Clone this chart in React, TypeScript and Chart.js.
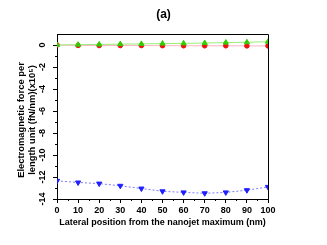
import React, { useEffect, useRef } from "react";
import { Chart, registerables } from "chart.js";

Chart.register(...registerables);

const POSITIONS = [0, 10, 20, 30, 40, 50, 60, 70, 80, 90, 100];
const GREEN_VALUES = [0, 0.03, 0.05, 0.08, 0.1, 0.13, 0.15, 0.18, 0.22, 0.25, 0.3];
const RED_VALUES = [0, -0.04, -0.05, -0.05, -0.05, -0.06, -0.07, -0.07, -0.07, -0.08, -0.08];
const BLACK_VALUES = [0, -0.08, -0.09, -0.1, -0.1, -0.1, -0.1, -0.1, -0.1, -0.1, -0.1];
const BLUE_VALUES = [-12.35, -12.5, -12.6, -12.8, -13.05, -13.3, -13.4, -13.48, -13.4, -13.2, -12.9];
const Y_MINOR = [-13, -11, -9, -7, -5, -3, -1];
const X_MINOR = [5, 15, 25, 35, 45, 55, 65, 75, 85, 95];

const TITLE = "(a)";
const X_TITLE = "Lateral position from the nanojet maximum (nm)";
const Y_TITLE_1 = "Electromagnetic force per";
const Y_TITLE_2 = "length unit (fN/nm)(x10\u2075)";

const FONT_FAMILY = '"Liberation Sans", Arial, sans-serif';

const toPoints = (vals: number[]) => POSITIONS.map((x, i) => ({ x, y: vals[i] }));

const customPlugin = {
  id: "customAxes",
  afterDraw(chart: any) {
    const { ctx, chartArea: a, scales } = chart;
    const xs = scales.x;
    const ys = scales.y;
    ctx.save();
    ctx.strokeStyle = "#000";
    ctx.lineWidth = 1;
    // frame top and right
    ctx.beginPath();
    ctx.moveTo(Math.round(a.left), Math.round(a.top) + 0.5);
    ctx.lineTo(Math.round(a.right) + 0.5, Math.round(a.top) + 0.5);
    ctx.lineTo(Math.round(a.right) + 0.5, Math.round(a.bottom));
    ctx.stroke();
    // minor ticks
    ctx.beginPath();
    for (const v of Y_MINOR) {
      const py = Math.round(ys.getPixelForValue(v)) + 0.5;
      ctx.moveTo(a.left - 2, py);
      ctx.lineTo(a.left, py);
    }
    for (const v of X_MINOR) {
      const px = Math.round(xs.getPixelForValue(v)) + 0.5;
      ctx.moveTo(px, a.bottom);
      ctx.lineTo(px, a.bottom + 2);
    }
    ctx.stroke();
    // rotated y tick labels
    ctx.fillStyle = "#000";
    ctx.font = "bold 9px " + FONT_FAMILY;
    ctx.textAlign = "center";
    ctx.textBaseline = "middle";
    for (const t of ys.ticks) {
      const py = ys.getPixelForValue(t.value);
      ctx.save();
      ctx.translate(43, py);
      ctx.rotate(-Math.PI / 2);
      ctx.fillText(String(t.value), 0, 0);
      ctx.restore();
    }
    // y title
    ctx.font = "bold 9.4px " + FONT_FAMILY;
    const cy = 120;
    ctx.save();
    ctx.translate(21, cy);
    ctx.rotate(-Math.PI / 2);
    ctx.fillText(Y_TITLE_1, 0, 0);
    ctx.restore();
    ctx.save();
    ctx.translate(32, cy);
    ctx.rotate(-Math.PI / 2);
    ctx.fillText(Y_TITLE_2, 0, 0);
    ctx.restore();
    ctx.restore();
  },
};

export default function App() {
  const ref = useRef<HTMLCanvasElement | null>(null);
  useEffect(() => {
    document.body.style.margin = "0";
    if (!ref.current) return;
    const chart = new Chart(ref.current, {
      type: "line",
      data: {
        datasets: [
          {
            data: toPoints(GREEN_VALUES),
            borderColor: "#99ee77",
            backgroundColor: "#33cc00",
            pointBackgroundColor: "#33cc00",
            pointBorderColor: "#33cc00",
            pointStyle: "triangle",
            pointRadius: 3,
            borderWidth: 1,
          },
          {
            data: toPoints(RED_VALUES),
            borderColor: "#ffb3c6",
            backgroundColor: "#ee1111",
            pointBackgroundColor: "#ee1111",
            pointBorderColor: "#ee1111",
            pointStyle: "circle",
            pointRadius: 2.3,
            borderWidth: 1,
          },
          {
            data: toPoints(BLACK_VALUES),
            borderColor: "rgba(0,0,0,0)",
            backgroundColor: "#222",
            pointBackgroundColor: "#222",
            pointBorderColor: "#222",
            pointStyle: "rect",
            pointRadius: 1.8,
            borderWidth: 0,
          },
          {
            data: toPoints(BLUE_VALUES),
            borderColor: "#7b7bff",
            borderDash: [2, 2],
            backgroundColor: "#1f1fff",
            pointBackgroundColor: "#1f1fff",
            pointBorderColor: "#1f1fff",
            pointStyle: "triangle",
            pointRotation: 180,
            pointRadius: 3,
            borderWidth: 1,
          },
        ],
      },
      options: {
        responsive: false,
        animation: false,
        layout: { padding: 0 },
        plugins: {
          legend: { display: false },
          tooltip: { enabled: false },
          title: {
            display: true,
            text: TITLE,
            color: "#000",
            font: { family: FONT_FAMILY, size: 12, weight: "bold", lineHeight: 1.2 },
            padding: { top: 7, bottom: 12.6 },
          },
        },
        scales: {
          x: {
            type: "linear",
            min: 0,
            max: 100,
            ticks: {
              stepSize: 10,
              color: "#000",
              font: { family: FONT_FAMILY, size: 9, weight: "bold" },
              padding: 2,
              maxRotation: 0,
            },
            grid: { drawOnChartArea: false, drawTicks: true, tickLength: 4, color: "#000" },
            border: { color: "#000", width: 1 },
            title: {
              display: true,
              text: X_TITLE,
              color: "#000",
              font: { family: FONT_FAMILY, size: 9, weight: "bold", lineHeight: 1.2 },
              padding: { top: 0, bottom: 16.6 },
            },
            afterFit: (s: any) => {
              s.height = 46;
            },
          },
          y: {
            type: "linear",
            min: -14,
            max: 1,
            ticks: { stepSize: 2, display: false },
            afterBuildTicks: (s: any) => {
              s.ticks = s.ticks.filter((t: any) => t.value % 2 === 0);
            },
            grid: { drawOnChartArea: false, drawTicks: true, tickLength: 4, color: "#000" },
            border: { color: "#000", width: 1 },
            afterFit: (s: any) => {
              s.width = 57;
            },
          },
          yR: {
            type: "linear",
            position: "right",
            display: true,
            ticks: { display: false },
            grid: { display: false },
            border: { display: false },
            afterFit: (s: any) => {
              s.width = 59;
            },
          },
        },
      },
      plugins: [customPlugin],
    });
    return () => chart.destroy();
  }, []);
  return (
    <div style={{ width: 327, height: 245 }}>
      <canvas ref={ref} width={327} height={245} />
    </div>
  );
}
